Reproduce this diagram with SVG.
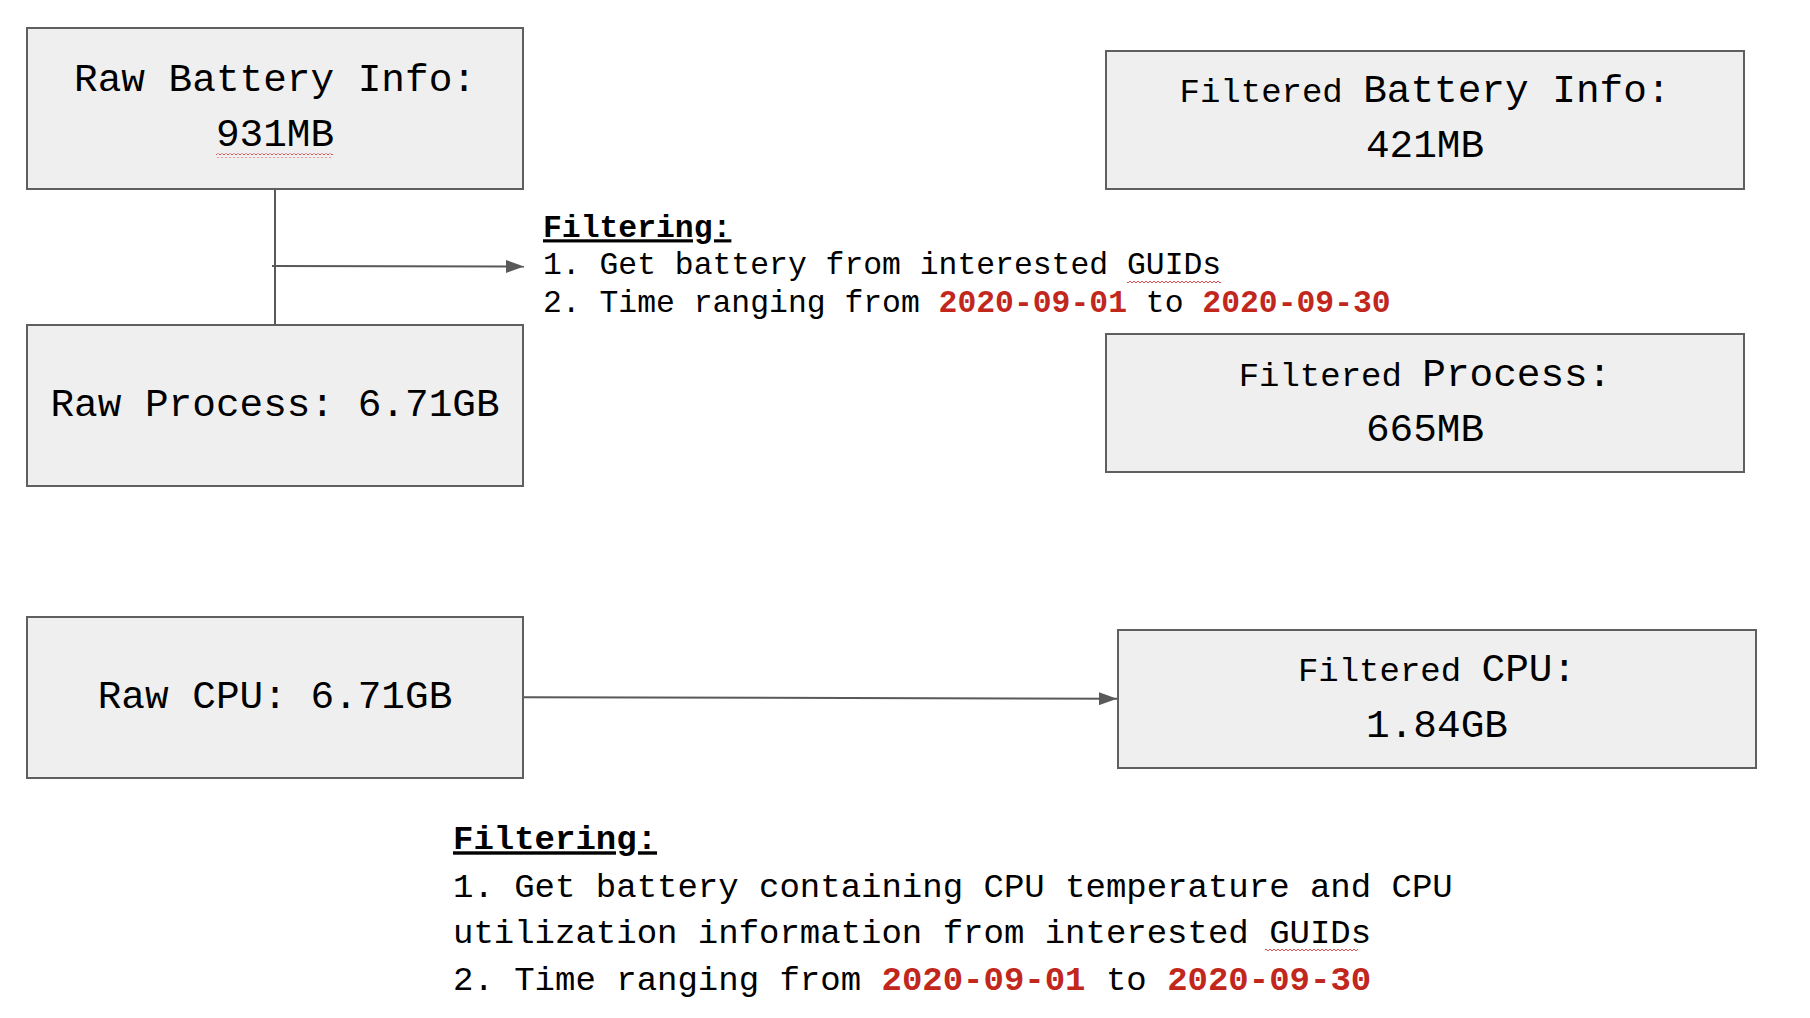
<svg xmlns="http://www.w3.org/2000/svg" width="1810" height="1018" viewBox="0 0 1810 1018">
  <style>
    .box { fill: #efefef; stroke: #5f5f5f; stroke-width: 2; }
    .lbl { font-family: "Liberation Mono", "DejaVu Sans Mono", monospace; font-size: 39.4px; fill: #000; text-anchor: middle; }
    .sm { font-size: 34px; }
    .note { font-family: "Liberation Mono", "DejaVu Sans Mono", monospace; fill: #000; }
    .hd { font-weight: bold; text-decoration: underline; }
    .red { font-weight: bold; fill: #c1271d; }
    .conn { stroke: #595959; stroke-width: 2; fill: none; }
  </style>
  <defs>
    <marker id="arrow" viewBox="0 0 18 13" refX="18" refY="6.5" markerWidth="18" markerHeight="13" markerUnits="userSpaceOnUse" orient="auto">
      <path d="M0,0 L18,6.5 L0,13 Z" fill="#595959"/>
    </marker>
    <pattern id="squiggle" x="0" y="0" width="4" height="4" patternUnits="userSpaceOnUse">
      <path d="M0,3 L2,1 L4,3" stroke="#e05050" stroke-width="1" fill="none"/>
    </pattern>
  </defs>
  <rect width="1810" height="1018" fill="#ffffff"/>

  <g id="connectors">
    <line class="conn" x1="275" y1="189" x2="275" y2="325"/>
    <line class="conn" x1="272" y1="266" x2="524" y2="266.5" marker-end="url(#arrow)"/>
    <line class="conn" x1="523" y1="697.3" x2="1117" y2="698.7" marker-end="url(#arrow)"/>
  </g>

  <g id="raw-battery">
    <rect class="box" x="27" y="28" width="496" height="161"/>
    <text class="lbl" x="275" y="90.7">Raw Battery Info:</text>
    <text class="lbl" x="275" y="145.7">931MB</text>
    <rect x="216" y="153.5" width="117" height="4" fill="url(#squiggle)"/>
  </g>

  <g id="raw-process">
    <rect class="box" x="27" y="325" width="496" height="161"/>
    <text class="lbl" x="275" y="415.7">Raw Process: 6.71GB</text>
  </g>

  <g id="raw-cpu">
    <rect class="box" x="27" y="617" width="496" height="161"/>
    <text class="lbl" x="275" y="708">Raw CPU: 6.71GB</text>
  </g>

  <g id="filtered-battery">
    <rect class="box" x="1106" y="51" width="638" height="138"/>
    <text class="lbl" x="1425" y="102.3"><tspan class="sm">Filtered </tspan>Battery Info:</text>
    <text class="lbl" x="1425" y="157.3">421MB</text>
  </g>

  <g id="filtered-process">
    <rect class="box" x="1106" y="334" width="638" height="138"/>
    <text class="lbl" x="1425" y="385.7"><tspan class="sm">Filtered </tspan>Process:</text>
    <text class="lbl" x="1425" y="440.7">665MB</text>
  </g>

  <g id="filtered-cpu">
    <rect class="box" x="1118" y="630" width="638" height="138"/>
    <text class="lbl" x="1437" y="681.3"><tspan class="sm">Filtered </tspan>CPU:</text>
    <text class="lbl" x="1437" y="736.7">1.84GB</text>
  </g>

  <g id="filter-note-1">
    <text class="note" font-size="31.4" x="543" y="237.3"><tspan class="hd">Filtering:</tspan></text>
    <text class="note" font-size="31.4" x="543" y="274">1. Get battery from interested GUIDs</text>
    <text class="note" font-size="31.4" x="543" y="311.7">2. Time ranging from <tspan class="red">2020-09-01</tspan> to <tspan class="red">2020-09-30</tspan></text>
    <rect x="1127" y="279" width="94" height="4" fill="url(#squiggle)"/>
  </g>

  <g id="filter-note-2">
    <text class="note" font-size="34" x="453" y="849.3"><tspan class="hd">Filtering:</tspan></text>
    <text class="note" font-size="34" x="453" y="896.7">1. Get battery containing CPU temperature and CPU</text>
    <text class="note" font-size="34" x="453" y="943.3">utilization information from interested GUIDs</text>
    <text class="note" font-size="34" x="453" y="990">2. Time ranging from <tspan class="red">2020-09-01</tspan> to <tspan class="red">2020-09-30</tspan></text>
    <rect x="1265" y="948.5" width="93" height="4" fill="url(#squiggle)"/>
  </g>
</svg>
